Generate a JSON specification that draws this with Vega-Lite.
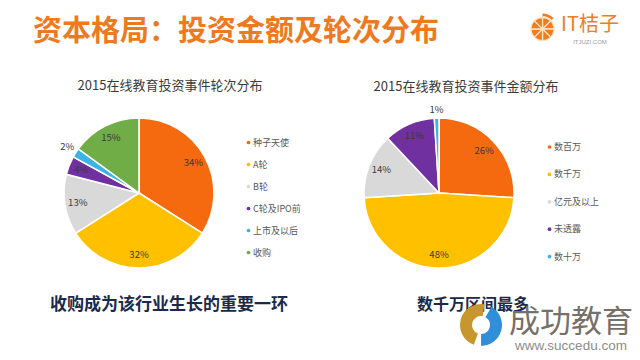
{
  "$schema": "https://vega.github.io/schema/vega-lite/v6.json",
  "padding": 0,
  "background": "white",
  "config": {"view": {"stroke": null, "fill": "white"}, "font": "Noto Sans CJK SC", "title": {"font": "Noto Sans CJK SC"}, "legend": {"labelFont": "Noto Sans CJK SC"}},
  "spacing": 16,
  "resolve": {"scale": {"theta": "independent", "color": "independent"}, "legend": {"color": "independent"}},
  "vconcat": [
    {
      "spacing": 55,
      "resolve": {"scale": {"theta": "independent", "color": "independent"}},
      "hconcat": [
        {
          "width": 472,
          "height": 64,
          "data": {"values": [{"t": "资本格局：投资金额及轮次分布"}]},
          "mark": {"type": "text", "fontSize": 29, "fontWeight": "bold", "color": "#EE7A1F", "font": "Noto Sans CJK SC"},
          "encoding": {"text": {"field": "t"}}
        },
        {
          "spacing": 0,
          "bounds": "flush",
          "resolve": {"scale": {"theta": "independent", "color": "independent"}},
          "hconcat": [
            {
              "width": 31,
              "height": 58,
              "layer": [
                {
                  "data": {"values": [{"v": 1}]},
                  "mark": {"type": "arc", "radius": 15.5, "color": "#EE7D22"},
                  "encoding": {"theta": {"field": "v", "type": "quantitative"}}
                },
                {
                  "data": {"values": [{"v": 1}]},
                  "mark": {"type": "arc", "radius": 13, "color": "#FCE3C4"},
                  "encoding": {"theta": {"field": "v", "type": "quantitative"}}
                },
                {
                  "data": {"values": [{"s": "a", "v": 1}, {"s": "b", "v": 1}, {"s": "c", "v": 1}, {"s": "d", "v": 1}, {"s": "e", "v": 1}, {"s": "f", "v": 1}, {"s": "g", "v": 1}, {"s": "h", "v": 1}]},
                  "mark": {"type": "arc", "radius": 11.5, "color": "#EE7D22", "stroke": "#FCE3C4", "strokeWidth": 1.3},
                  "encoding": {"theta": {"field": "v", "type": "quantitative"}, "detail": {"field": "s"}}
                }
              ]
            },
            {
              "width": 64,
              "height": 58,
              "data": {"values": [{"a": "IT桔子", "b": "ITJUZI.COM"}]},
              "layer": [
                {"mark": {"type": "text", "fontSize": 20, "color": "#EE7D22", "dy": -4, "font": "Noto Sans CJK SC"}, "encoding": {"text": {"field": "a"}}},
                {"mark": {"type": "text", "fontSize": 6, "color": "#9a9a9a", "dy": 13, "font": "Liberation Sans"}, "encoding": {"text": {"field": "b"}}}
              ]
            }
          ]
        }
      ]
    },
    {
      "spacing": 7,
      "resolve": {"scale": {"theta": "independent", "color": "independent"}, "legend": {"color": "independent"}},
      "vconcat": [
        {
          "spacing": 6,
          "resolve": {"scale": {"theta": "independent", "color": "independent"}, "legend": {"color": "independent"}},
          "hconcat": [
            {
              "width": 278,
              "height": 150,
              "title": {"text": "2015在线教育投资事件轮次分布", "font": "Noto Sans CJK SC", "fontSize": 13, "fontWeight": "normal", "color": "#3a3a3a", "anchor": "middle", "frame": "group", "dx": 31, "offset": 19},
              "data": {"values": [
                {"round": "种子天使", "share": 0.34, "rank": 1},
                {"round": "A轮", "share": 0.32, "rank": 2},
                {"round": "B轮", "share": 0.13, "rank": 3},
                {"round": "C轮及IPO前", "share": 0.04, "rank": 4},
                {"round": "上市及以后", "share": 0.02, "rank": 5},
                {"round": "收购", "share": 0.15, "rank": 6}
              ]},
              "encoding": {
                "theta": {"field": "share", "type": "quantitative", "stack": true},
                "order": {"field": "rank", "type": "quantitative"}
              },
              "layer": [
                {
                  "mark": {"type": "arc", "stroke": "white", "strokeWidth": 1.5},
                  "encoding": {
                    "color": {
                      "field": "round", "type": "nominal",
                      "scale": {"domain": ["种子天使", "A轮", "B轮", "C轮及IPO前", "上市及以后", "收购"], "range": ["#F5690F", "#FFC000", "#D9D9D9", "#7030A0", "#3BB3E3", "#70AD47"]},
                      "legend": {"title": null, "orient": "none", "legendX": 244, "legendY": 20, "symbolType": "circle", "symbolSize": 14, "symbolStrokeWidth": 0, "labelFontSize": 9, "labelColor": "#595959", "rowPadding": 12, "padding": 0, "labelOffset": 0}
                    }
                  }
                },
                {
                  "mark": {"type": "text", "radius": 62, "fontSize": 9.5, "color": "#3a3a3a"},
                  "encoding": {"text": {"condition": {"test": "datum.share <= 0.02", "value": ""}, "field": "share", "type": "quantitative", "format": ".0%"}}
                },
                {
                  "mark": {"type": "text", "radius": 85, "fontSize": 9.5, "color": "#3a3a3a"},
                  "encoding": {"text": {"condition": {"test": "datum.share > 0.02", "value": ""}, "field": "share", "type": "quantitative", "format": ".0%"}}
                }
              ]
            },
            {
              "width": 264,
              "height": 150,
              "title": {"text": "2015在线教育投资事件金额分布", "font": "Noto Sans CJK SC", "fontSize": 13, "fontWeight": "normal", "color": "#3a3a3a", "anchor": "middle", "frame": "group", "dx": 27, "offset": 11},
              "data": {"values": [
                {"amount": "数百万", "share": 0.26, "rank": 1},
                {"amount": "数千万", "share": 0.48, "rank": 2},
                {"amount": "亿元及以上", "share": 0.14, "rank": 3},
                {"amount": "未透露", "share": 0.11, "rank": 4},
                {"amount": "数十万", "share": 0.01, "rank": 5}
              ]},
              "encoding": {
                "theta": {"field": "share", "type": "quantitative", "stack": true},
                "order": {"field": "rank", "type": "quantitative"}
              },
              "layer": [
                {
                  "mark": {"type": "arc", "radius": 75, "stroke": "white", "strokeWidth": 1.5},
                  "encoding": {
                    "color": {
                      "field": "amount", "type": "nominal",
                      "scale": {"domain": ["数百万", "数千万", "亿元及以上", "未透露", "数十万"], "range": ["#F5690F", "#FFC000", "#D9D9D9", "#7030A0", "#3BB3E3"]},
                      "legend": {"title": null, "orient": "none", "legendX": 238, "legendY": 24.5, "symbolType": "circle", "symbolSize": 14, "symbolStrokeWidth": 0, "labelFontSize": 9, "labelColor": "#595959", "rowPadding": 17.4, "padding": 0, "labelOffset": 0}
                    }
                  }
                },
                {
                  "mark": {"type": "text", "radius": 62, "fontSize": 9.5, "color": "#3a3a3a"},
                  "encoding": {"text": {"condition": {"test": "datum.share <= 0.02", "value": ""}, "field": "share", "type": "quantitative", "format": ".0%"}}
                },
                {
                  "mark": {"type": "text", "radius": 83, "fontSize": 9.5, "color": "#3a3a3a"},
                  "encoding": {"text": {"condition": {"test": "datum.share > 0.02", "value": ""}, "field": "share", "type": "quantitative", "format": ".0%"}}
                }
              ]
            }
          ]
        },
        {
          "spacing": 0,
          "bounds": "flush",
          "resolve": {"scale": {"theta": "independent", "color": "independent"}},
          "hconcat": [
            {
              "width": 460,
              "height": 30,
              "data": {"values": [{"t": "收购成为该行业生长的重要一环"}]},
              "mark": {"type": "text", "fontSize": 17, "fontWeight": "bold", "color": "#1B2A4A", "font": "Noto Sans CJK SC", "dx": -61},
              "encoding": {"text": {"field": "t"}}
            },
            {
              "width": 42,
              "height": 70,
              "layer": [
                {
                  "data": {"values": [{"t": "数千万区间最多"}]},
                  "mark": {"type": "text", "fontSize": 16, "fontWeight": "bold", "color": "#1B2A4A", "font": "Noto Sans CJK SC", "dx": -8, "dy": -20},
                  "encoding": {"text": {"field": "t"}}
                },
                {
                  "data": {"values": [{"part": "gold", "v": 170, "rank": 1}, {"part": "gapA", "v": 20, "rank": 2}, {"part": "blue", "v": 150, "rank": 3}, {"part": "gapB", "v": 20, "rank": 4}]},
                  "mark": {"type": "arc", "radius": 21, "radius2": 9},
                  "encoding": {
                    "theta": {"field": "v", "type": "quantitative", "stack": true, "scale": {"range": [3.49, 9.77]}},
                    "order": {"field": "rank", "type": "quantitative"},
                    "color": {"field": "part", "type": "nominal", "scale": {"domain": ["gold", "gapA", "blue", "gapB"], "range": ["#C8962E", "rgba(0,0,0,0)", "#2F8FD8", "rgba(0,0,0,0)"]}, "legend": null}
                  }
                }
              ]
            },
            {
              "width": 138,
              "height": 60,
              "data": {"values": [{"w": "成功教育", "u": "www.succedu.com"}]},
              "layer": [
                {"mark": {"type": "text", "fontSize": 31, "color": "#76706A", "dy": 3, "font": "Noto Sans CJK SC"}, "encoding": {"text": {"field": "w"}}},
                {"mark": {"type": "text", "fontSize": 13.5, "color": "#8C8C8C", "font": "Liberation Sans", "dy": 26}, "encoding": {"text": {"field": "u"}}}
              ]
            }
          ]
        }
      ]
    }
  ]
}
